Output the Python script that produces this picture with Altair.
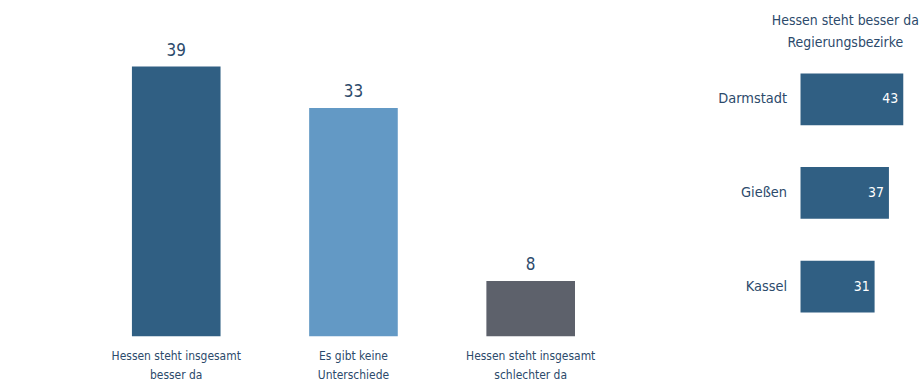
import altair as alt
import pandas as pd

# Left chart data
categories = ["Hessen steht insgesamt\nbesser da", "Es gibt keine\nUnterschiede", "Hessen steht insgesamt\nschlechter da"]
values = [39, 33, 8]
colors = ["#305f83", "#6399c5", "#5d616b"]

# Right chart data
regions = ["Darmstadt", "Gießen", "Kassel"]
region_values = [43, 37, 31]

FONT = "DejaVu Sans Condensed"
TEXT = "#2c4a6b"

df1 = pd.DataFrame({"cat": categories, "value": values, "color": colors})
df2 = pd.DataFrame({"region": regions, "value": region_values})

xenc = alt.X("cat:N", sort=categories,
             scale=alt.Scale(paddingInner=0.5, paddingOuter=0.25),
             axis=alt.Axis(title=None, labelAngle=0, domain=False, ticks=False,
                           labelExpr="split(datum.label, '\\n')",
                           labelFont=FONT, labelFontSize=12, labelColor=TEXT,
                           labelPadding=14, labelLineHeight=19, labelBaseline="top"))
yenc = alt.Y("value:Q", scale=alt.Scale(domain=[0, 41.6], nice=False), axis=None)

bars1 = alt.Chart(df1).mark_bar().encode(
    x=xenc, y=yenc, color=alt.Color("color:N", scale=None))
labels1 = alt.Chart(df1).mark_text(baseline="bottom", dy=-7, font=FONT, fontSize=17, color=TEXT).encode(
    x=alt.X("cat:N", sort=categories), y="value:Q", text="value:Q")
left = alt.layer(bars1, labels1).properties(width=534, height=289)

yenc2 = alt.Y("region:N", sort=regions,
              scale=alt.Scale(paddingInner=0.447, paddingOuter=0.266),
              axis=alt.Axis(title=None, domain=False, ticks=False,
                            labelFont=FONT, labelFontSize=14.5, labelColor=TEXT,
                            labelPadding=14, minExtent=90, maxExtent=90))
xenc2 = alt.X("value:Q", scale=alt.Scale(domain=[0, 50], nice=False), axis=None)
bars2 = alt.Chart(df2).mark_bar(color="#305f83").encode(x=xenc2, y=yenc2)
labels2 = alt.Chart(df2).mark_text(align="right", dx=-5, font=FONT, fontSize=14, color="white").encode(
    x="value:Q", y=alt.Y("region:N", sort=regions), text="value:Q")
right = alt.layer(bars2, labels2).properties(
    width=120, height=290,
    title=alt.TitleParams(["Hessen steht besser da", "Regierungsbezirke"], font=FONT, fontSize=14,
                          fontWeight="normal", color=TEXT, anchor="middle", dx=-15,
                          lineHeight=22, offset=-1))

chart = alt.hconcat(left, right, spacing=92).properties(
    padding={"left": 88, "top": 13, "right": 0, "bottom": 0},
    background="white"
).configure_view(stroke=None)

chart.save("out.html", embed_options={"renderer": "svg", "actions": False})
